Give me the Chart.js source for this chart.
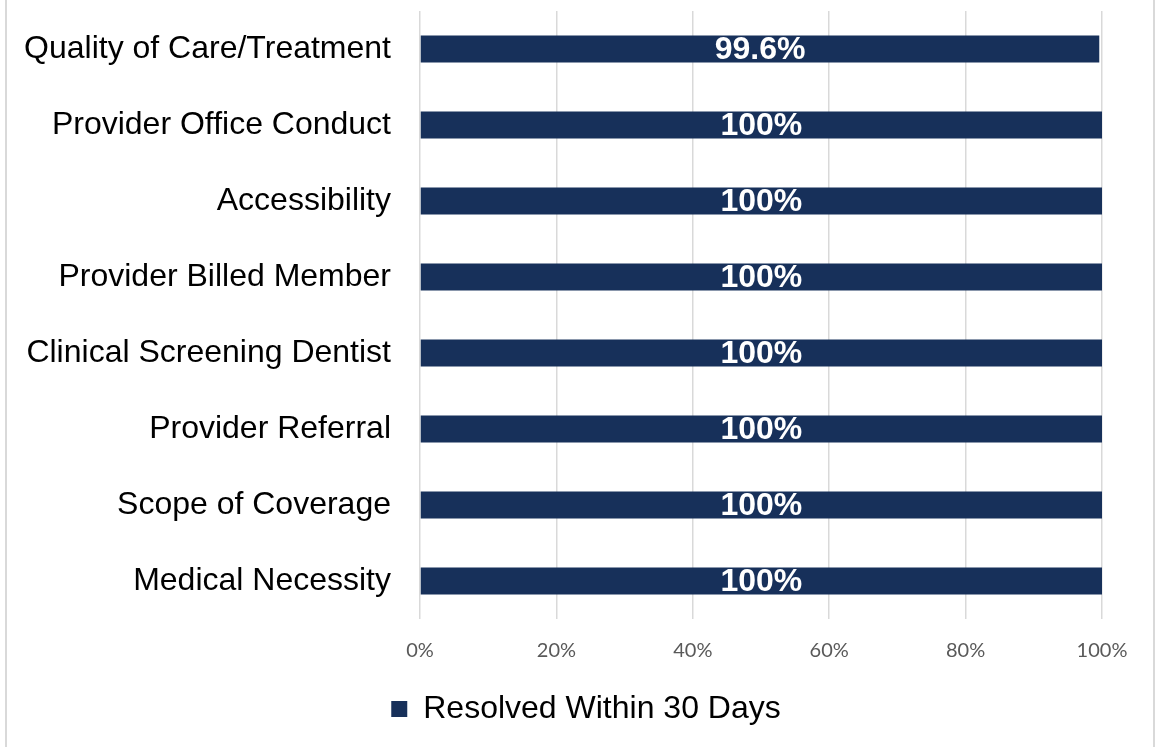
<!DOCTYPE html>
<html lang="en">
<head>
    <meta charset="UTF-8">
    <title>Resolved Within 30 Days</title>
    <script src="https://cdn.jsdelivr.net/npm/chart.js"></script>
    <style>
        html, body {
            margin: 0;
            padding: 0;
            background-color: #ffffff;
        }
        #marco {
            position: absolute;
            left: 5px;
            top: 0;
            width: 1150px;
            height: 747px;
            border-left: 2px solid #d9d9d9;
            border-right: 2px solid #d9d9d9;
            box-sizing: border-box;
        }
        #grafico {
            position: absolute;
            left: 0;
            top: 0;
        }
    </style>
</head>
<body>
    <div id="marco"></div>
    <canvas id="grafico" width="1160" height="747"></canvas>

    <script>
        // categorias y valores
        const categorias = [
            "Quality of Care/Treatment",
            "Provider Office Conduct",
            "Accessibility",
            "Provider Billed Member",
            "Clinical Screening Dentist",
            "Provider Referral",
            "Scope of Coverage",
            "Medical Necessity"
        ];
        const resueltos = [99.6, 100, 100, 100, 100, 100, 100, 100];
        const etiquetas = ["99.6%", "100%", "100%", "100%", "100%", "100%", "100%", "100%"];
        const ticksX = [0, 20, 40, 60, 80, 100];
        const nombreSerie = "Resolved Within 30 Days";

        const colorBarra = "#17305a";
        const fuente = "'Liberation Sans', Arial, sans-serif";

        // etiquetas blancas dentro de las barras
        const etiquetasBarras = {
            id: "etiquetasBarras",
            afterDatasetsDraw(chart) {
                const ctx = chart.ctx;
                const meta = chart.getDatasetMeta(0);
                ctx.save();
                ctx.fillStyle = "#ffffff";
                ctx.font = "bold 32px " + fuente;
                ctx.textAlign = "center";
                ctx.textBaseline = "middle";
                meta.data.forEach((bar, i) => {
                    const x = (bar.base + bar.x) / 2;
                    ctx.fillText(etiquetas[i], x, bar.y + 1);
                });
                ctx.restore();
            }
        };

        // la leyenda va un poco a la derecha, como en el original
        const moverLeyenda = {
            id: "moverLeyenda",
            afterLayout(chart) {
                chart.legend.left += 35;
                chart.legend.right += 35;
            }
        };

        const ctx = document.getElementById("grafico").getContext("2d");
        new Chart(ctx, {
            type: "bar",
            data: {
                labels: categorias,
                datasets: [{
                    label: nombreSerie,
                    data: resueltos,
                    backgroundColor: colorBarra,
                    borderWidth: 0,
                    categoryPercentage: 1,
                    barPercentage: 0.355
                }]
            },
            options: {
                indexAxis: "y",
                responsive: false,
                animation: false,
                devicePixelRatio: 1,
                layout: {
                    padding: { top: 11, right: 58, bottom: 12, left: 0 }
                },
                scales: {
                    x: {
                        min: 0,
                        max: 100,
                        afterBuildTicks: (scale) => {
                            scale.ticks = ticksX.map(v => ({ value: v }));
                        },
                        grid: {
                            color: "#d9d9d9",
                            lineWidth: 1.5,
                            drawTicks: false
                        },
                        border: { display: false },
                        ticks: {
                            padding: 20,
                            color: "#595959",
                            font: { family: "Lato, 'Open Sans', sans-serif", size: 20 },
                            callback: (v) => v + "%"
                        }
                    },
                    y: {
                        afterFit: (scale) => {
                            scale.width = 420;
                            scale.paddingTop = 0;
                            scale.paddingBottom = 0;
                        },
                        grid: { display: false },
                        border: { display: false },
                        ticks: {
                            padding: 21,
                            color: "#000000",
                            font: { family: fuente, size: 32 }
                        }
                    }
                },
                plugins: {
                    legend: {
                        position: "bottom",
                        labels: {
                            boxWidth: 16,
                            boxHeight: 16,
                            padding: 10,
                            color: "#000000",
                            font: { family: fuente, size: 32 }
                        }
                    },
                    tooltip: { enabled: false }
                }
            },
            plugins: [etiquetasBarras, moverLeyenda]
        });
    </script>
</body>
</html>
